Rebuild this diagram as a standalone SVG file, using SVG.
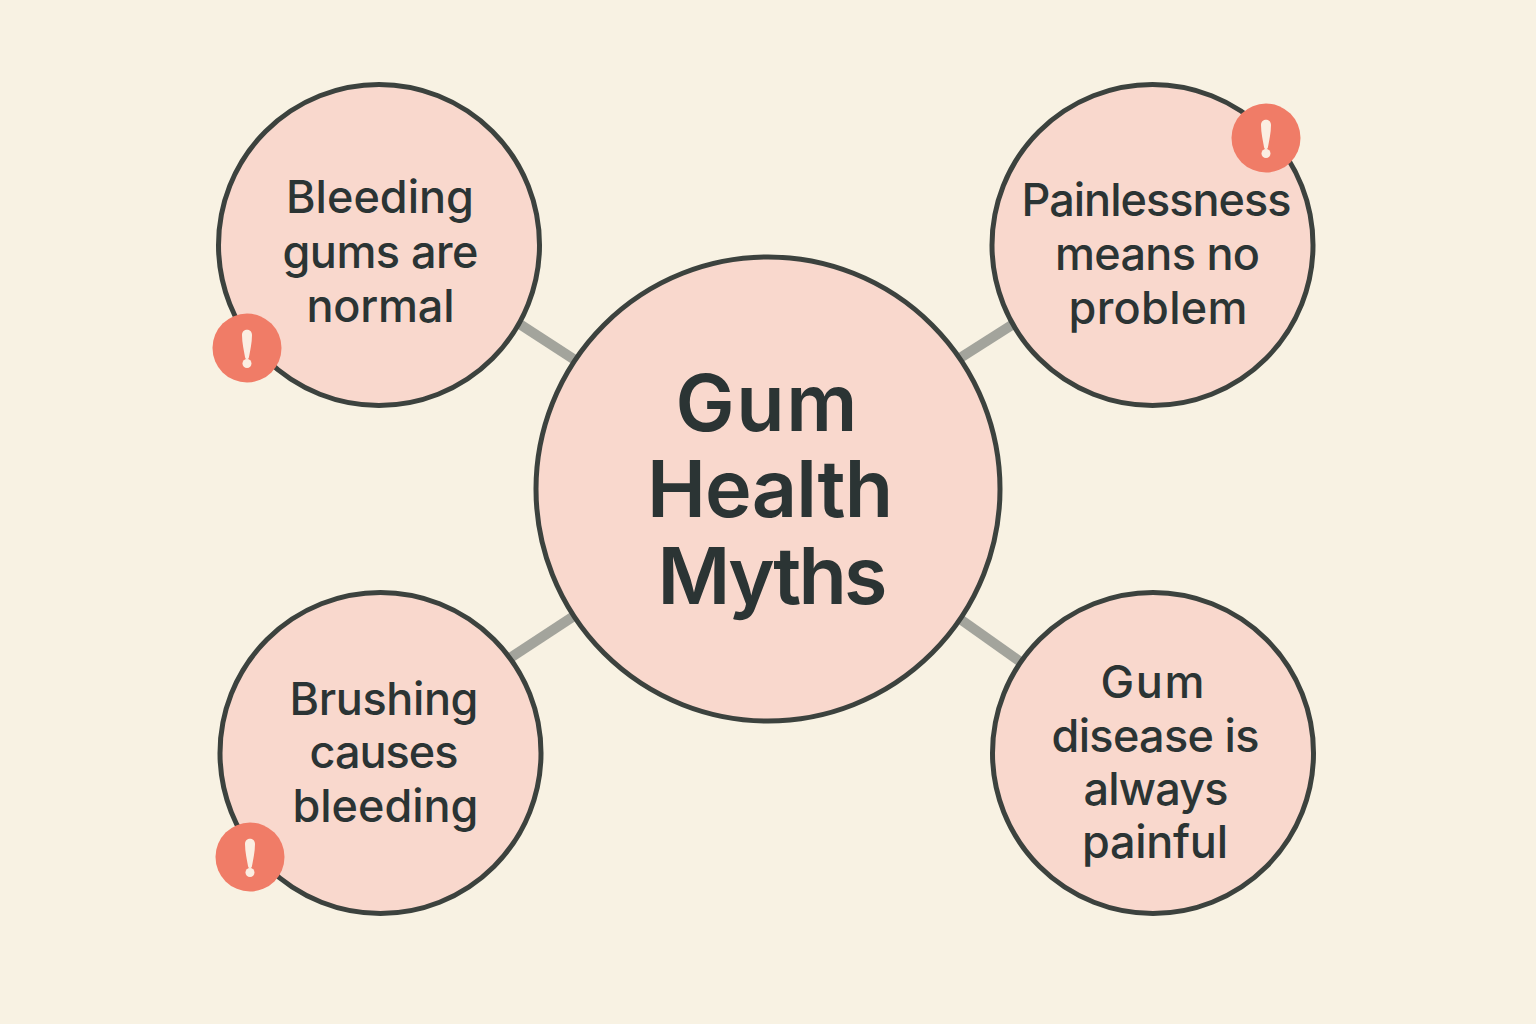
<svg xmlns="http://www.w3.org/2000/svg" width="1536" height="1024" viewBox="0 0 1536 1024">
<style>
.n{fill:#f9d8cd;stroke:#3c423e;stroke-width:5}
.c{stroke:#a3a49c;stroke-width:10;fill:none}
.t{font-family:"Inter","Liberation Sans",sans-serif;font-weight:500;fill:#2b3434;text-anchor:middle;font-size:45px}
.h{font-size:79px;font-weight:600}
.b{fill:#f07c67}
.m{fill:#fbeee2}
</style>
<defs><g id="badge"><circle class="b" r="34.500"/><path class="m" d="M-5-13C-5-20 5-20 5-13C5-5 3 3 2 9C1.500 12-1.500 12-2 9C-3 3-5-5-5-13Z"/><circle class="m" cy="15.500" r="4.500"/></g></defs>
<rect width="1536" height="1024" fill="#f8f2e3"/>
<g id="connectors">
<line class="c" x1="518" y1="323" x2="575" y2="360"/>
<line class="c" x1="960" y1="358" x2="1015" y2="323"/>
<line class="c" x1="510" y1="658" x2="574" y2="616"/>
<line class="c" x1="960" y1="619" x2="1022" y2="663"/>
</g>
<g id="center"><circle class="n" cx="768" cy="489" r="232"/>
<text class="t h" x="766.500" y="431" textLength="182">Gum</text><text class="t h" x="770" y="517" textLength="246">Health</text><text class="t h" x="772.500" y="604" textLength="230">Myths</text></g>
<g id="node-bleeding"><circle class="n" cx="379" cy="245" r="160.500"/>
<text class="t" x="380" y="213" textLength="188">Bleeding</text><text class="t" x="380.500" y="268" textLength="196">gums are</text><text class="t" x="380.500" y="322" textLength="148">normal</text>
<use href="#badge" x="247" y="348"/></g>
<g id="node-painless"><circle class="n" cx="1152.500" cy="245" r="160.500"/>
<text class="t" x="1156.500" y="216" textLength="270">Painlessness</text><text class="t" x="1157.500" y="270" textLength="205">means no</text><text class="t" x="1158" y="324" textLength="179">problem</text>
<use href="#badge" x="1266" y="138"/></g>
<g id="node-brushing"><circle class="n" cx="380.500" cy="753" r="160.500"/>
<text class="t" x="384" y="715" textLength="189">Brushing</text><text class="t" x="384" y="768" textLength="149">causes</text><text class="t" x="385.500" y="822" textLength="186">bleeding</text>
<use href="#badge" x="250" y="857"/></g>
<g id="node-painful"><circle class="n" cx="1153" cy="753" r="160.500"/>
<text class="t" x="1152.500" y="698" textLength="104">Gum</text><text class="t" x="1155.500" y="752" textLength="208">disease is</text><text class="t" x="1156" y="805" textLength="145">always</text><text class="t" x="1155" y="858" textLength="146">painful</text></g>
</svg>
